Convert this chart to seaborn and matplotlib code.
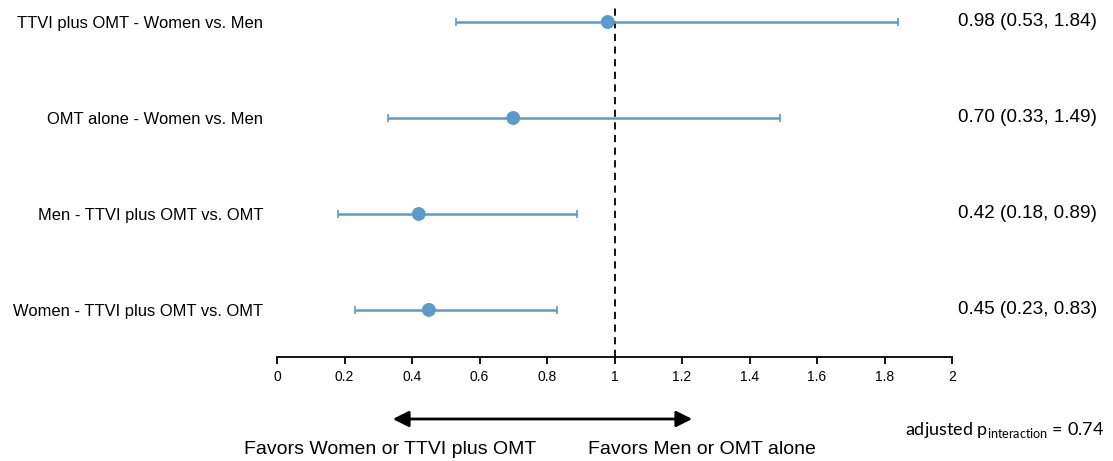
import numpy as np
import pandas as pd
import matplotlib
matplotlib.use('Agg')
import matplotlib.pyplot as plt
import matplotlib.transforms as mtransforms
import seaborn as sns

# comparisons, top to bottom
labels = ['TTVI plus OMT - Women vs. Men',
          'OMT alone - Women vs. Men',
          'Men - TTVI plus OMT vs. OMT',
          'Women - TTVI plus OMT vs. OMT']
estimate = [0.98, 0.70, 0.42, 0.45]
lower = [0.53, 0.33, 0.18, 0.23]
upper = [1.84, 1.49, 0.89, 0.83]
xticks = [0, 0.2, 0.4, 0.6, 0.8, 1, 1.2, 1.4, 1.6, 1.8, 2]
xtick_labels = ['0', '0.2', '0.4', '0.6', '0.8', '1', '1.2', '1.4', '1.6', '1.8', '2']

df = pd.DataFrame({'label': labels, 'est': estimate, 'lo': lower, 'hi': upper})
df['row'] = np.arange(len(df))
df['text'] = [f'{e:.2f} ({l:.2f}, {h:.2f})' for e, l, h in zip(df.est, df.lo, df.hi)]

sns.set_style('white')
plt.rcParams['font.family'] = ['Liberation Sans', 'DejaVu Sans']
plt.rcParams['text.color'] = 'black'
plt.rcParams['xtick.color'] = 'black'
plt.rcParams['ytick.color'] = 'black'
plt.rcParams['mathtext.fontset'] = 'custom'
plt.rcParams['mathtext.rm'] = 'Lato'

color = '#5a9bc9'

fig = plt.figure(figsize=(11.13, 4.61), dpi=100)
ax = fig.add_axes([277 / 1113, 104 / 461, 675 / 1113, 352 / 461])

# confidence intervals
ax.errorbar(df.est, df.row,
            xerr=[df.est - df.lo, df.hi - df.est],
            fmt='none', ecolor=color, elinewidth=1.8, capsize=3, capthick=1.2, zorder=2)
sns.scatterplot(data=df, x='est', y='row', ax=ax, color=color, s=100,
                edgecolor='none', zorder=3, legend=False)

ax.axvline(1, color='black', lw=1.3, ls=(0, (4, 3)), zorder=1)

ax.set_xlim(0, 2)
ax.set_ylim(3.49, -0.177)
ax.set_xticks(xticks)
ax.set_xticklabels(xtick_labels, fontsize=10)
ax.set_yticks(df.row)
ax.set_yticklabels(df.label, fontsize=11.9)
ax.tick_params(axis='y', left=False, length=0, pad=10)
ax.tick_params(axis='x', bottom=True, direction='out', length=5, width=1.3,
               color='black', pad=4)
ax.set_xlabel('')
ax.set_ylabel('')
for s in ['left', 'top', 'right']:
    ax.spines[s].set_visible(False)
ax.spines['bottom'].set_color('black')
ax.spines['bottom'].set_linewidth(1.3)

# estimate text on the right
trans = mtransforms.blended_transform_factory(ax.transAxes, ax.transData)
for _, r in df.iterrows():
    ax.text(1.009, r.row, r.text, transform=trans, ha='left', va='center', fontsize=13.6)

# direction arrow and captions
fig.patches.append(matplotlib.patches.FancyArrowPatch(
    (390 / 1113, 1 - 419 / 461), (695 / 1113, 1 - 419 / 461),
    transform=fig.transFigure, arrowstyle='<|-|>,head_length=0.8,head_width=0.4',
    color='black', lw=2, mutation_scale=12))
fig.text(390 / 1113, 1 - 449 / 461, 'Favors Women or TTVI plus OMT',
         ha='center', va='center', fontsize=14)
fig.text(702 / 1113, 1 - 449 / 461, 'Favors Men or OMT alone',
         ha='center', va='center', fontsize=14)
fig.text(1104 / 1113, 1 - 430 / 461, r'adjusted p$_{\mathrm{interaction}}$ = 0.74',
         ha='right', va='center', fontsize=13, family=['Lato', 'DejaVu Sans'])

fig.savefig('out.png', dpi=100)
